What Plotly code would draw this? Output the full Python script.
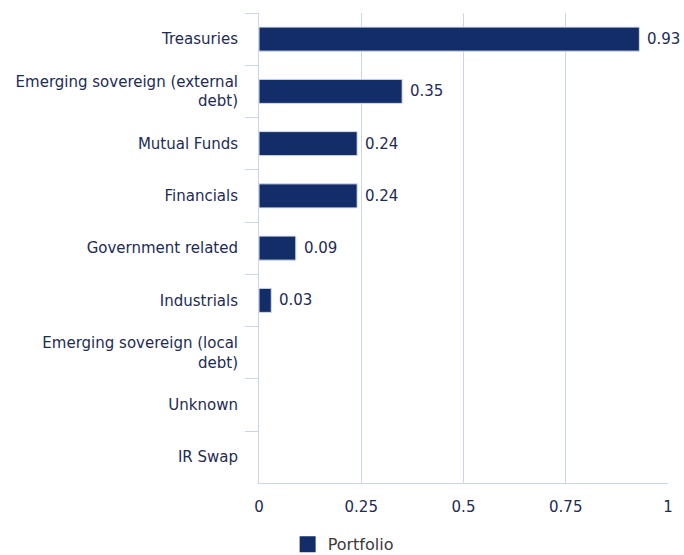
import plotly.graph_objects as go

categories = [
    "Treasuries",
    "Emerging sovereign (external<br>debt)",
    "Mutual Funds",
    "Financials",
    "Government related",
    "Industrials",
    "Emerging sovereign (local<br>debt)",
    "Unknown",
    "IR Swap",
]
values = [0.93, 0.35, 0.24, 0.24, 0.09, 0.03, None, None, None]
labels = ["0.93", "0.35", "0.24", "0.24", "0.09", "0.03", "", "", ""]
x_ticks = [0, 0.25, 0.5, 0.75, 1]
x_ticklabels = ["0", "0.25", "0.5", "0.75", "1"]

BAR = "#132d68"
GRID = "#cbd6e8"
TXT = "#1d2b55"
FONT = "DejaVu Sans"

fig = go.Figure()
fig.add_trace(go.Bar(
    y=categories, x=values, orientation="h", name="Portfolio", showlegend=False,
    marker=dict(color=BAR, line=dict(color="#d6deec", width=1)),
))
# legend entry
fig.add_trace(go.Scatter(
    x=[None], y=[None], mode="markers", name="Portfolio",
    marker=dict(symbol="square", size=22, color=BAR),
))
for c, v, t in zip(categories, values, labels):
    if v is None or not t:
        continue
    fig.add_annotation(x=v, y=c, text=t, showarrow=False, xanchor="left",
                       xshift=6, font=dict(family=FONT, size=15, color=TXT))

fig.update_layout(
    width=684, height=555,
    margin=dict(l=259, r=11, t=13, b=67),
    paper_bgcolor="white", plot_bgcolor="white",
    font=dict(family=FONT, size=15, color=TXT),
    bargap=0.54,
    showlegend=True,
    legend=dict(orientation="h", x=0.07, xanchor="left", yref="container",
                y=0.05, yanchor="top",
                font=dict(family=FONT, size=16, color="#3a3a3a")),
    xaxis=dict(range=[0, 1], tickvals=x_ticks, ticktext=x_ticklabels,
               showgrid=True, gridcolor=GRID, gridwidth=1, zeroline=False,
               showline=True, linecolor=GRID, linewidth=1, ticks="",
               ticklabelstandoff=10,
               tickfont=dict(family=FONT, size=15, color=TXT)),
    yaxis=dict(autorange="reversed", showgrid=False, zeroline=False,
               showline=True, linecolor=GRID, linewidth=1,
               ticks="outside", tickson="boundaries", ticklen=13, tickcolor=GRID,
               ticklabelstandoff=17,
               tickfont=dict(family=FONT, size=15, color=TXT)),
)
fig.write_html("out.html")
